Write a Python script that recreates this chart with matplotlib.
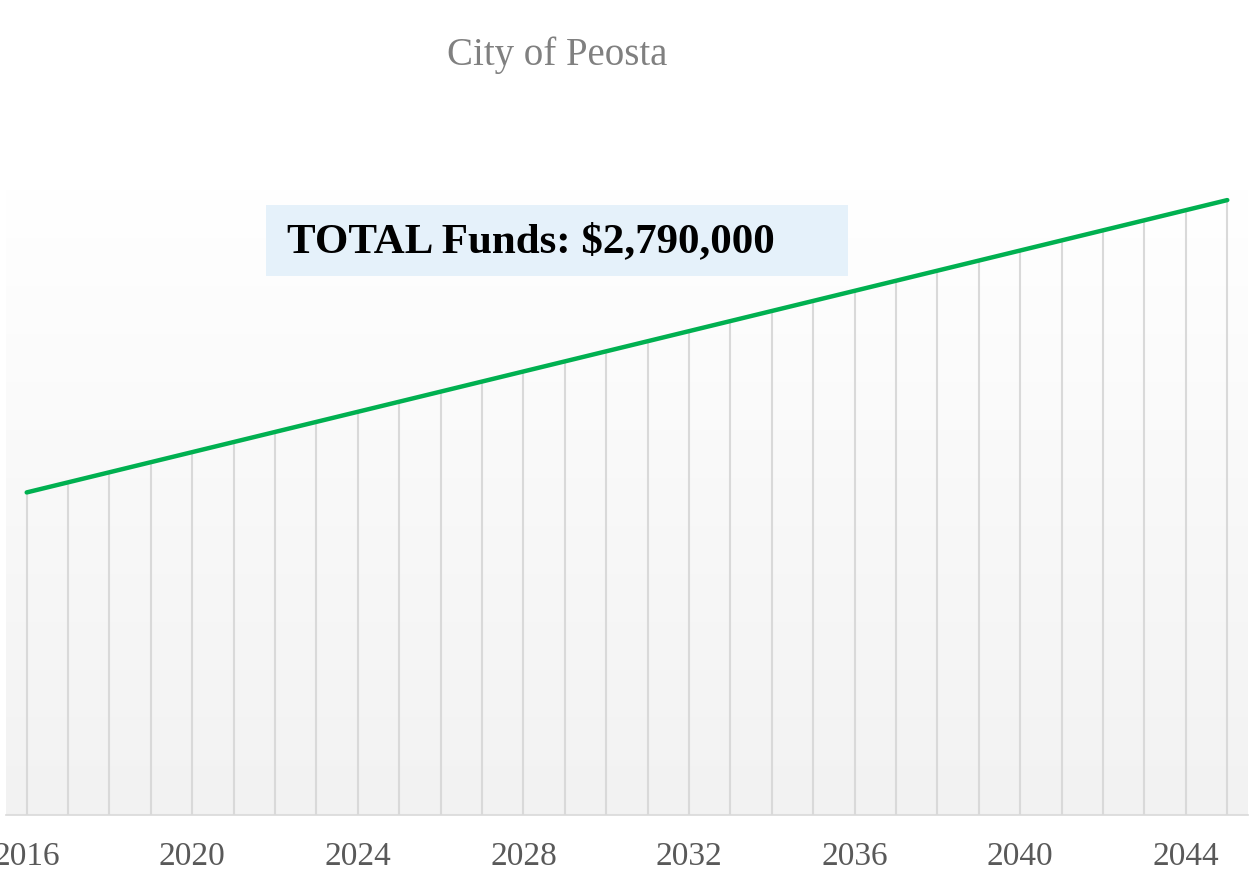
import matplotlib
matplotlib.use("Agg")
import matplotlib.pyplot as plt
from matplotlib.patches import Rectangle
import numpy as np

# yearly funds, linear growth of $2,000 per year (sums to $2,790,000)
years = list(range(2016, 2046))
funds = [64000 + 2000 * i for i in range(len(years))]
tick_years = list(range(2016, 2045, 4))
title = "City of Peosta"
note = "TOTAL Funds: $2,790,000"

plt.rcParams['font.family'] = ['Liberation Serif', 'DejaVu Serif']

fig = plt.figure(figsize=(12.5, 8.71), dpi=100)
W, H = 1250, 871
ax = fig.add_axes([6 / W, 56 / H, 1242 / W, (815 - 190) / H])

ax.set_xlim(2015.5, 2045.5)
ax.set_ylim(0, 124000)

# background gradient white -> light gray
grad = np.linspace(1.0, 0.949, 256).reshape(-1, 1)
ax.imshow(np.dstack([grad, grad, grad]), aspect='auto', extent=[0, 1, 0, 1],
          transform=ax.transAxes, zorder=0)

# drop lines
ax.vlines(years, 0, funds, color='#d9d9d9', linewidth=1.5, zorder=1)
ax.plot(years, funds, color='#00b050', linewidth=3.2, solid_capstyle='round',
        zorder=3, clip_on=False)

for s in ['top', 'left', 'right']:
    ax.spines[s].set_visible(False)
ax.spines['bottom'].set_color('#d9d9d9')
ax.spines['bottom'].set_linewidth(1.2)
ax.set_yticks([])
ax.set_xticks(tick_years)
ax.set_xticklabels([str(y) for y in tick_years])
ax.tick_params(axis='x', length=0, pad=19, labelsize=24, labelcolor='#595959')

fig.text(557 / W, 1 - 55 / H, title, ha='center', va='center', fontsize=28,
         color='#808080')

fig.patches.append(Rectangle((266 / W, 1 - 276 / H), (848 - 266) / W, 71 / H,
                             transform=fig.transFigure, facecolor='#e5f1fa',
                             edgecolor='none', zorder=4))
fig.text(287 / W, 1 - 242 / H, note, ha='left', va='center', fontsize=31,
         fontweight='bold', color='black', zorder=5)

fig.savefig("out.png", dpi=100)
